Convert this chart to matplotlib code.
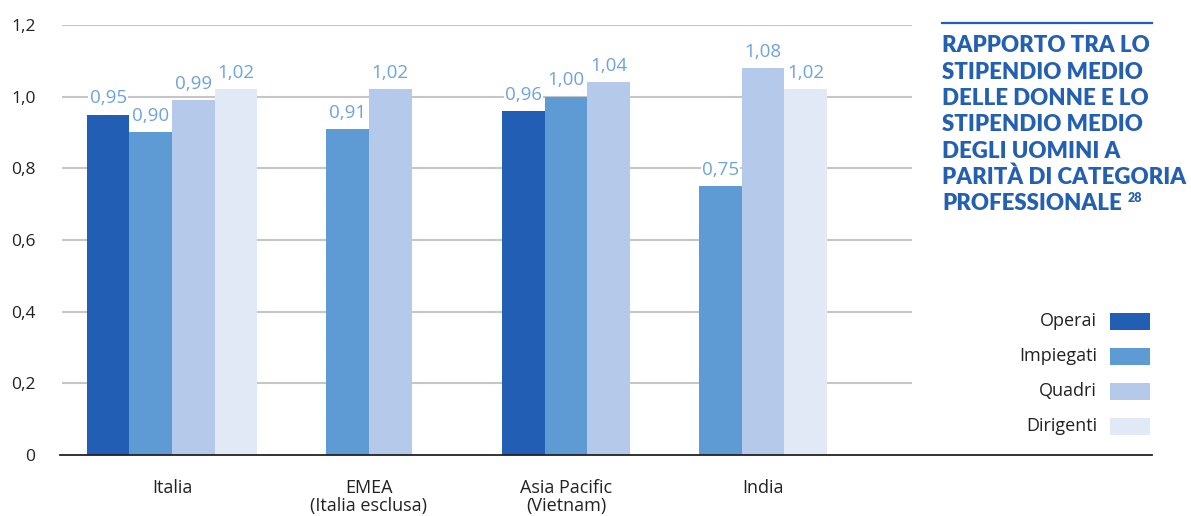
import matplotlib
matplotlib.use("Agg")
import matplotlib.pyplot as plt
from matplotlib.patches import Rectangle
from matplotlib.lines import Line2D

plt.rcParams['font.family'] = ['Open Sans', 'DejaVu Sans']

# Data
categories = ["Italia", "EMEA\n(Italia esclusa)", "Asia Pacific\n(Vietnam)", "India"]
series_names = ["Operai", "Impiegati", "Quadri", "Dirigenti"]
operai = [0.95, None, 0.96, None]
impiegati = [0.90, 0.91, 1.00, 0.75]
quadri = [0.99, 1.02, 1.04, 1.08]
dirigenti = [1.02, None, None, 1.02]
y_ticks = [0, 0.2, 0.4, 0.6, 0.8, 1.0, 1.2]
y_tick_labels = ["0", "0,2", "0,4", "0,6", "0,8", "1,0", "1,2"]

colors = ["#215EB4", "#5E9BD5", "#B5CAEA", "#E1E9F7"]
label_color = "#6FA3DB"
title_color = "#2460B2"
text_color = "#222222"

W, H = 1191, 516
fig = plt.figure(figsize=(W / 100, H / 100), dpi=100)
ax = fig.add_axes([62 / W, 1 - 455 / H, (912 - 62) / W, 430 / H])

series = [operai, impiegati, quadri, dirigenti]
bar_w = 0.216

for gi in range(len(categories)):
    present = [si for si in range(len(series)) if series[si][gi] is not None]
    n = len(present)
    for k, si in enumerate(present):
        v = series[si][gi]
        x = gi + (k - (n - 1) / 2) * bar_w
        ax.bar(x, v, width=bar_w, color=colors[si], zorder=3, linewidth=0)
        ax.text(x, v + 0.02, f"{v:.2f}".replace(".", ","), ha="center", va="bottom",
                fontsize=13.5, color=label_color, zorder=4,
                bbox=dict(facecolor="white", edgecolor="none", pad=1.0))

ax.set_xlim(-0.558, 3.756)
ax.set_ylim(0, 1.2)
ax.set_yticks(y_ticks)
ax.set_yticklabels(y_tick_labels, fontsize=12.5, color=text_color)
ax.tick_params(axis="y", length=0, pad=19)
ax.set_xticks(range(len(categories)))
ax.set_xticklabels(categories, fontsize=13, color=text_color, linespacing=1.0)
ax.tick_params(axis="x", length=0, pad=17)

for yv in y_ticks[1:]:
    ax.axhline(yv, color="#C6C6C6", linewidth=1.5, zorder=1)
for s in ax.spines.values():
    s.set_visible(False)

# Baseline running under the legend
fig.add_artist(Line2D([60 / W, 1152 / W], [1 - 455 / H] * 2,
                      color=text_color, linewidth=1.3))

# Title block
fig.add_artist(Line2D([942 / W, 1152 / W], [1 - 23 / H] * 2,
                      color=title_color, linewidth=1.6))
title_lines = ["RAPPORTO TRA LO", "STIPENDIO MEDIO", "DELLE DONNE E LO",
               "STIPENDIO MEDIO", "DEGLI UOMINI A", "PARITÀ DI CATEGORIA",
               "PROFESSIONALE"]
last = None
for i, line in enumerate(title_lines):
    last = fig.text(942 / W, 1 - (46 + i * 26.3) / H, line, ha="left", va="center",
                    fontsize=16, fontweight="heavy", color=title_color,
                    family=["Lato", "DejaVu Sans"])
ax.annotate("28", xy=(1, 1), xycoords=last, xytext=(4, 1), textcoords="offset points",
            ha="left", va="top", fontsize=9, fontweight="heavy", color=title_color,
            family=["Lato", "DejaVu Sans"], annotation_clip=False)

# Legend
for i, (name, c) in enumerate(zip(series_names, colors)):
    yc = 321 + i * 35
    fig.add_artist(Rectangle((1110 / W, 1 - (yc + 8.5) / H), 40 / W, 17 / H,
                             transform=fig.transFigure, facecolor=c, edgecolor="none"))
    fig.text(1097 / W, 1 - yc / H, name, ha="right", va="center",
             fontsize=13, color=text_color)

fig.savefig("out.png", dpi=100)
